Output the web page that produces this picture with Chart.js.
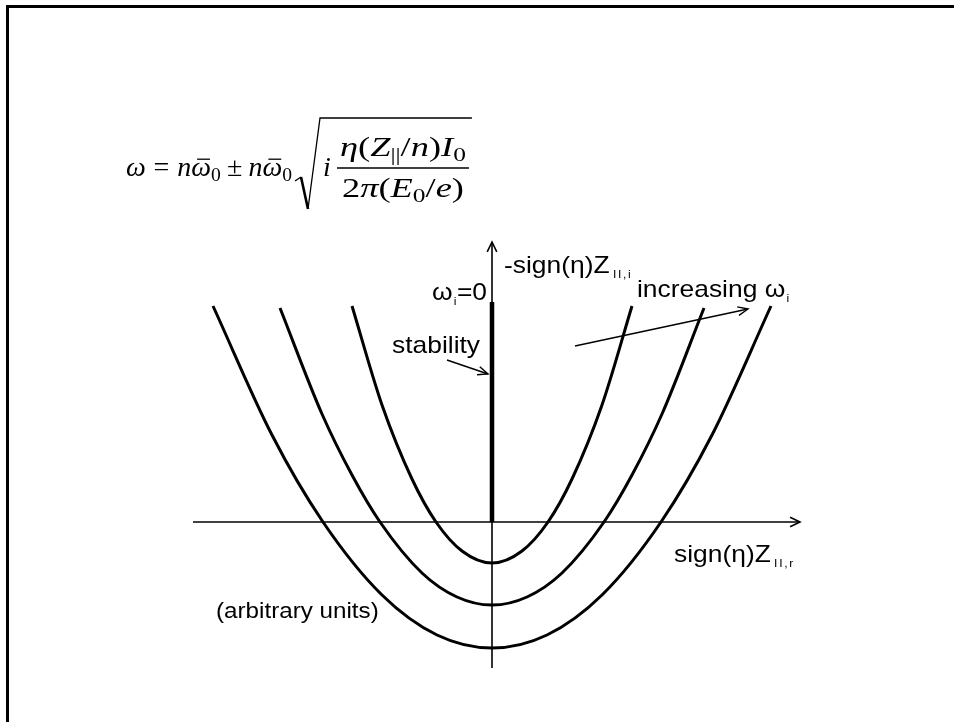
<!DOCTYPE html>
<html>
<head>
<meta charset="utf-8">
<script src="https://cdn.jsdelivr.net/npm/chart.js@4"></script>
<style>
  html, body { margin: 0; padding: 0; background: #fff; overflow: hidden; }
  #wrap { position: relative; width: 954px; height: 722px; }
  #wrap canvas { position: absolute; left: 0; top: 0; }
  #frame { position: absolute; left: 6px; top: 5px; width: 1000px; height: 800px;
           border-top: 3px solid #000; border-left: 3px solid #000; pointer-events: none; }
</style>
</head>
<body>
<div id="wrap">
  <canvas id="dispersion" width="954" height="722"></canvas>
  <div id="frame"></div>
</div>
<script>
// plotting window, arbitrary units (origin where the two axes cross)
var xRange = [-49.2, 46.2];
var yRange = [-20.0, 52.2];

// the three stability curves, inner to outer
var innerX = [-14, -11, -8, -5.6, -3, 0, 3, 5.6, 8, 11, 14];
var innerY = [21.6, 11.7, 4.3, 0.0, -2.9, -4.1, -2.9, 0.0, 4.3, 11.7, 21.6];
var middleX = [-21.2, -17, -14, -11.2, -7, -3.5, 0, 3.5, 7, 11.2, 14, 17, 21.2];
var middleY = [21.4, 10.8, 4.7, 0.0, -5.1, -7.5, -8.3, -7.5, -5.1, 0.0, 4.7, 10.8, 21.4];
var outerX = [-27.9, -22, -16.9, -11, -5.5, 0, 5.5, 11, 16.9, 22, 27.9];
var outerY = [21.6, 8.7, 0.0, -7.3, -11.3, -12.6, -11.3, -7.3, 0.0, 8.7, 21.6];

// axes and the omega_i = 0 line
var realAxisX = [-29.9, 30.8], realAxisY = [0, 0];
var imagAxisX = [0, 0], imagAxisY = [-14.6, 28.0];
var stableX = [0, 0], stableY = [0, 22.0];

// annotation arrows: [x0, y0, x1, y1], head at the second point
var stabilityArrow = [-4.5, 16.2, -0.4, 14.8];
var increasingArrow = [8.3, 17.6, 25.6, 21.3];

// text anchors (left, baseline)
var labelRuns = [
  { x: -6.0, y: 22.2, size: 24, runs: [['ω'], ['i', 'sub'], ['=0']] },
  { x: 1.2, y: 24.9, size: 24, runs: [['-sign(η)Z'], ['II,i', 'sub']] },
  { x: 14.5, y: 22.5, size: 24, runs: [['increasing ω'], ['i', 'sub']] },
  { x: -10.0, y: 16.9, size: 24, runs: [['stability']] },
  { x: 18.2, y: -4.0, size: 24, runs: [['sign(η)Z'], ['II,r', 'sub']] },
  { x: -27.6, y: -9.6, size: 22, runs: [['(arbitrary units)']] }
];
// left end of the radical sign, on the formula baseline
var formulaAnchor = { x: -19.7, y: 34.6 };

function toPoints(xs, ys) {
  return xs.map(function (x, i) { return { x: x, y: ys[i] }; });
}

function lineSet(xs, ys, width, smooth) {
  return {
    data: toPoints(xs, ys),
    showLine: true,
    borderColor: '#000',
    borderWidth: width,
    pointRadius: 0,
    cubicInterpolationMode: smooth ? 'monotone' : 'default',
    tension: 0
  };
}

var SANS = '"Liberation Sans", Arial, Helvetica, sans-serif';
var SERIF = '"Liberation Serif", "DejaVu Serif", serif';
var TEXT_STRETCH = 1.1;

function drawHead(ctx, x0, y0, x1, y1, len, spread) {
  var a = Math.atan2(y1 - y0, x1 - x0);
  ctx.beginPath();
  ctx.moveTo(x1 - len * Math.cos(a - spread), y1 - len * Math.sin(a - spread));
  ctx.lineTo(x1, y1);
  ctx.lineTo(x1 - len * Math.cos(a + spread), y1 - len * Math.sin(a + spread));
  ctx.stroke();
}

function drawLabel(ctx, x, y, size, runs) {
  ctx.save();
  ctx.translate(x, y);
  ctx.scale(TEXT_STRETCH, 1);
  var cx = 0;
  runs.forEach(function (r) {
    var sub = r[1] === 'sub';
    var single = sub && r[0].length === 1;
    ctx.font = (sub ? 11 : size) + 'px ' + SANS;
    ctx.letterSpacing = sub && !single ? '1.5px' : '0px';
    if (sub) cx += single ? 1 : 3;
    ctx.fillText(r[0], cx, sub ? 5 : 0);
    cx += ctx.measureText(r[0]).width + (sub ? (single ? 0.5 : 2) : 0);
  });
  ctx.restore();
}

// math runs: [text, italic, size factor, baseline shift, overbar]; a lone number is a gap in em
var lhsRuns = [['ω', 1], [0.28], ['=', 0], [0.28], ['n', 1], ['ω', 1, 1, 0, 1], ['0', 0, 0.7, 5],
               [0.22], ['±', 0], [0.22], ['n', 1], ['ω', 1, 1, 0, 1], ['0', 0, 0.7, 5]];
var numRuns = [['η', 1], ['(', 0], ['Z', 1], ['||', 0, 0.7, 5], ['/', 0], ['n', 1], [')', 0],
               ['I', 1], ['0', 0, 0.7, 5]];
var denRuns = [['2', 0], ['π', 1], ['(', 0], ['E', 1], ['0', 0, 0.7, 5], ['/', 0], ['e', 1], [')', 0]];

function mathFont(size, italic) {
  return (italic ? 'italic ' : '') + size + 'px ' + SERIF;
}

function runWidth(ctx, r, size) {
  if (typeof r[0] === 'number') return r[0] * size;
  ctx.font = mathFont(size * (r[2] || 1), r[1]);
  return ctx.measureText(r[0]).width;
}

function runsWidth(ctx, runs, size) {
  return runs.reduce(function (w, r) { return w + runWidth(ctx, r, size); }, 0);
}

function drawRuns(ctx, runs, x, y, size) {
  runs.forEach(function (r) {
    var w = runWidth(ctx, r, size);
    if (typeof r[0] !== 'number') {
      var s = size * (r[2] || 1);
      ctx.font = mathFont(s, r[1]);
      ctx.fillText(r[0], x, y + (r[3] || 0));
      if (r[4]) {
        ctx.lineWidth = 1.3;
        ctx.beginPath();
        ctx.moveTo(x + w * 0.3, y - s * 0.6);
        ctx.lineTo(x + w * 0.95, y - s * 0.6);
        ctx.stroke();
      }
    }
    x += w;
  });
  return x;
}

function drawStretched(ctx, runs, x, y, size, sx) {
  ctx.save();
  ctx.translate(x, y);
  ctx.scale(sx, 1);
  drawRuns(ctx, runs, 0, 0, size);
  ctx.restore();
}

function drawFormula(ctx, rx, y) {
  var size = 28, fracStretch = 1.3;
  var axis = y - 8;
  ctx.textBaseline = 'alphabetic';
  ctx.letterSpacing = '0px';

  // left-hand side and the first term, ending just before the radical
  var lhsW = runsWidth(ctx, lhsRuns, size);
  drawRuns(ctx, lhsRuns, rx - 3 - lhsW, y, size);

  // fraction extent
  var numW = runsWidth(ctx, numRuns, size) * fracStretch;
  var denW = runsWidth(ctx, denRuns, size) * fracStretch;
  var fx = rx + 42;
  var barW = Math.max(numW, denW) + 6;
  var top = y - 58, bottom = y + 33;

  // radical sign
  ctx.lineJoin = 'miter';
  ctx.lineWidth = 1.3;
  ctx.beginPath();
  ctx.moveTo(rx, y + 5);
  ctx.lineTo(rx + 6, y + 1);
  ctx.stroke();
  ctx.lineWidth = 2.6;
  ctx.beginPath();
  ctx.moveTo(rx + 6, y + 1);
  ctx.lineTo(rx + 13, bottom);
  ctx.stroke();
  ctx.lineWidth = 1.3;
  ctx.beginPath();
  ctx.moveTo(rx + 13, bottom);
  ctx.lineTo(rx + 25, top);
  ctx.lineTo(fx + barW + 3, top);
  ctx.stroke();

  ctx.font = mathFont(size, 1);
  ctx.fillText('i', rx + 28, y);

  // fraction
  ctx.lineWidth = 1.3;
  ctx.beginPath();
  ctx.moveTo(fx, axis);
  ctx.lineTo(fx + barW, axis);
  ctx.stroke();
  drawStretched(ctx, numRuns, fx + (barW - numW) / 2, axis - 12, size, fracStretch);
  drawStretched(ctx, denRuns, fx + (barW - denW) / 2, axis + 29, size, fracStretch);
}

var decor = {
  id: 'decor',
  afterDatasetsDraw: function (chart) {
    var ctx = chart.ctx, sx = chart.scales.x, sy = chart.scales.y;
    var px = function (v) { return sx.getPixelForValue(v); };
    var py = function (v) { return sy.getPixelForValue(v); };
    ctx.save();
    ctx.strokeStyle = '#000';
    ctx.fillStyle = '#000';
    ctx.lineCap = 'butt';

    // axis arrowheads
    ctx.lineWidth = 1.6;
    drawHead(ctx, px(realAxisX[0]), py(0), px(realAxisX[1]), py(0), 11, 0.45);
    drawHead(ctx, px(0), py(imagAxisY[0]), px(0), py(imagAxisY[1]), 11, 0.45);

    // annotation arrows
    [stabilityArrow, increasingArrow].forEach(function (a) {
      var x0 = px(a[0]), y0 = py(a[1]), x1 = px(a[2]), y1 = py(a[3]);
      ctx.lineWidth = 1.4;
      ctx.beginPath();
      ctx.moveTo(x0, y0);
      ctx.lineTo(x1, y1);
      ctx.stroke();
      drawHead(ctx, x0, y0, x1, y1, 11, 0.4);
    });

    ctx.textBaseline = 'alphabetic';
    labelRuns.forEach(function (l) { drawLabel(ctx, px(l.x), py(l.y), l.size, l.runs); });

    drawFormula(ctx, px(formulaAnchor.x), py(formulaAnchor.y));
    ctx.restore();
  }
};

new Chart(document.getElementById('dispersion'), {
  type: 'scatter',
  data: {
    datasets: [
      lineSet(realAxisX, realAxisY, 1.6, false),
      lineSet(imagAxisX, imagAxisY, 1.6, false),
      lineSet(stableX, stableY, 4.5, false),
      lineSet(innerX, innerY, 3, true),
      lineSet(middleX, middleY, 3, true),
      lineSet(outerX, outerY, 3, true)
    ]
  },
  options: {
    responsive: false,
    animation: false,
    layout: { padding: 0 },
    plugins: { legend: { display: false }, tooltip: { enabled: false } },
    scales: {
      x: { type: 'linear', min: xRange[0], max: xRange[1], display: false },
      y: { type: 'linear', min: yRange[0], max: yRange[1], display: false }
    }
  },
  plugins: [decor]
});
</script>
</body>
</html>
